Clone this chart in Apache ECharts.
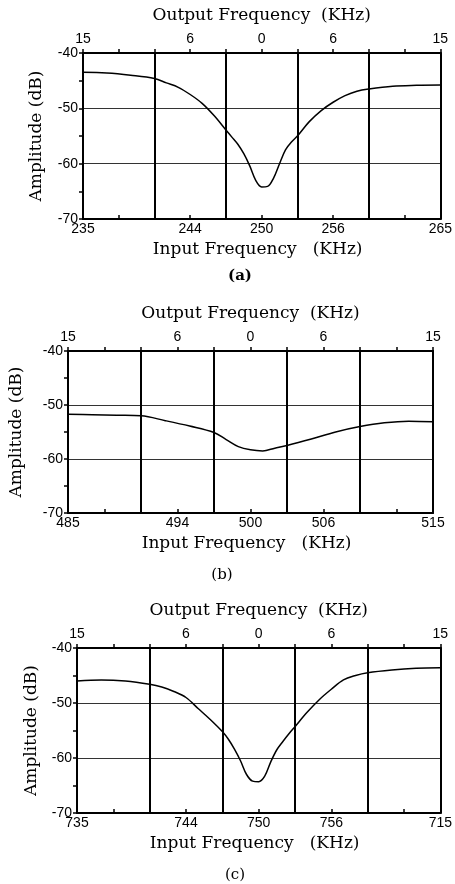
<!DOCTYPE html>
<html>
<head>
<meta charset="utf-8">
<script src="https://cdn.jsdelivr.net/npm/echarts@6/dist/echarts.min.js"></script>
<style>
  html, body { margin: 0; padding: 0; background: #fff; }
  #chart { width: 455px; height: 884px; }
</style>
</head>
<body>
<div id="chart"></div>
<script>
// input frequency (kHz) and amplitude (dB)
const inputA = [235, 237, 239, 241, 242, 243, 244, 245, 246, 247, 247.5, 248, 248.5, 249, 249.5, 250, 250.5, 251, 251.5, 252, 252.5, 253, 254, 255, 256, 257, 258, 259, 261, 263, 265];
const ampA = [-43.5, -43.6, -44.0, -44.6, -45.4, -46.2, -47.5, -49.1, -51.3, -53.9, -55.2, -56.5, -58.2, -60.4, -63.0, -64.2, -64.1, -62.6, -60.0, -57.5, -56.1, -55.0, -52.4, -50.4, -48.9, -47.7, -46.9, -46.5, -46.0, -45.85, -45.8];

const inputB = [485, 487, 489, 491, 493, 495, 497, 498, 499, 500, 501, 502, 503, 505, 507, 509, 511, 513, 515];
const ampB = [-51.7, -51.8, -51.9, -52.0, -52.9, -53.9, -55.1, -56.4, -57.7, -58.3, -58.5, -58.0, -57.5, -56.3, -55.0, -54.0, -53.3, -53.0, -53.1];

const inputC = [735, 737, 739, 741, 742, 743, 744, 745, 746, 747, 747.5, 748, 748.5, 749, 749.5, 750, 750.5, 751, 751.5, 752, 752.5, 753, 754, 755, 756, 757, 758, 759, 761, 763, 765];
const ampC = [-46.0, -45.8, -46.0, -46.6, -47.1, -47.9, -49.0, -51.0, -53.0, -55.2, -56.6, -58.4, -60.5, -63.0, -64.2, -64.3, -63.3, -60.7, -58.5, -57.0, -55.6, -54.3, -51.7, -49.4, -47.5, -45.8, -45.0, -44.5, -44.0, -43.7, -43.6];

const centers = [250, 500, 750];

// tick labels
const labelOffsets = [-15, -6, 0, 6, 15];
const topLabels = ['15', '6', '0', '6', '15'];
const bottomLabelsA = ['235', '244', '250', '256', '265'];
const bottomLabelsB = ['485', '494', '500', '506', '515'];
const bottomLabelsC = ['735', '744', '750', '756', '715'];
const captions = ['(a)', '(b)', '(c)'];

const serif = 'DejaVu Serif';
const tickFont = '"Liberation Sans Narrow", "Liberation Sans", sans-serif';

const grids = [
  { left: 83, right: 8, top: 53, height: 166 },
  { left: 68, right: 22, top: 351, height: 162 },
  { left: 77, right: 13, top: 648, height: 165 }
];
const yNameGaps = [38, 43, 37];
const captionPos = [[240, 276, 'bold'], [222, 575, 'normal'], [235, 875, 'normal']];

const panels = [
  { input: inputA, amp: ampA, bottom: bottomLabelsA },
  { input: inputB, amp: ampB, bottom: bottomLabelsB },
  { input: inputC, amp: ampC, bottom: bottomLabelsC }
];

const pickLabel = (labels) => (v) => {
  const i = labelOffsets.indexOf(Math.round(v));
  return i < 0 ? '' : labels[i];
};

const xAxis = [];
const yAxis = [];
const series = [];

panels.forEach((p, g) => {
  // bottom: input frequency, thick verticals every 6 kHz via alternating split colours
  xAxis.push({
    type: 'value', gridIndex: g, position: 'bottom',
    min: -15, max: 15, interval: 3,
    name: 'Input Frequency   (KHz)', nameLocation: 'middle', nameGap: 22,
    nameTextStyle: { fontFamily: serif, fontSize: 17, color: '#000', padding: [0, 8, 0, 0] },
    axisLine: { show: true, onZero: false, lineStyle: { color: '#000', width: 2 } },
    axisTick: { show: true, inside: true, length: 4, lineStyle: { color: '#000', width: 1.5 } },
    axisLabel: {
      show: true, margin: 3, showMinLabel: true, showMaxLabel: true, hideOverlap: false,
      fontFamily: tickFont, fontSize: 14, color: '#000',
      formatter: pickLabel(p.bottom)
    },
    splitLine: { show: true, showMinLine: true, showMaxLine: true, lineStyle: { color: ['#000', 'transparent'], width: 2 } }
  });
  // top: output frequency
  xAxis.push({
    type: 'value', gridIndex: g, position: 'top',
    min: -15, max: 15, interval: 3,
    name: 'Output Frequency  (KHz)', nameLocation: 'middle', nameGap: 29,
    nameTextStyle: { fontFamily: serif, fontSize: 17, color: '#000' },
    axisLine: { show: true, onZero: false, lineStyle: { color: '#000', width: 2 } },
    axisTick: { show: true, inside: false, length: 4, lineStyle: { color: '#000', width: 1.5 } },
    axisLabel: {
      show: true, margin: 7, showMinLabel: true, showMaxLabel: true, hideOverlap: false,
      fontFamily: tickFont, fontSize: 14, color: '#000',
      formatter: pickLabel(topLabels)
    },
    splitLine: { show: false }
  });
  yAxis.push({
    type: 'value', gridIndex: g, position: 'left',
    min: -70, max: -40, interval: 10,
    name: 'Amplitude (dB)', nameLocation: 'middle', nameGap: yNameGaps[g],
    nameTextStyle: { fontFamily: serif, fontSize: 17, color: '#000' },
    axisLine: { show: true, onZero: false, lineStyle: { color: '#000', width: 2 } },
    axisTick: { show: true, length: 4, lineStyle: { color: '#000', width: 1.5 } },
    minorTick: { show: true, splitNumber: 2, length: 4, lineStyle: { color: '#000', width: 1.5 } },
    axisLabel: { margin: 5, fontFamily: tickFont, fontSize: 14, color: '#000' },
    splitLine: { show: true, lineStyle: { color: '#333', width: 1 } }
  });
  yAxis.push({
    type: 'value', gridIndex: g, position: 'right',
    min: -70, max: -40, interval: 10,
    axisLine: { show: true, onZero: false, lineStyle: { color: '#000', width: 2 } },
    axisTick: { show: false },
    axisLabel: { show: false },
    splitLine: { show: false }
  });
  series.push({
    type: 'line',
    xAxisIndex: g * 2, yAxisIndex: g * 2,
    data: p.input.map((f, i) => [f - centers[g], p.amp[i]]),
    smooth: 0.35,
    showSymbol: false,
    silent: true,
    lineStyle: { color: '#000', width: 1.5 }
  });
});

const chart = echarts.init(document.getElementById('chart'));
chart.setOption({
  animation: false,
  backgroundColor: '#fff',
  grid: grids,
  xAxis: xAxis,
  yAxis: yAxis,
  series: series,
  graphic: captions.map((c, i) => ({
    type: 'text',
    x: captionPos[i][0], y: captionPos[i][1],
    style: {
      text: c, fill: '#000', font: captionPos[i][2] + ' 15px "DejaVu Serif"',
      align: 'center', verticalAlign: 'middle'
    }
  }))
});
</script>
</body>
</html>
